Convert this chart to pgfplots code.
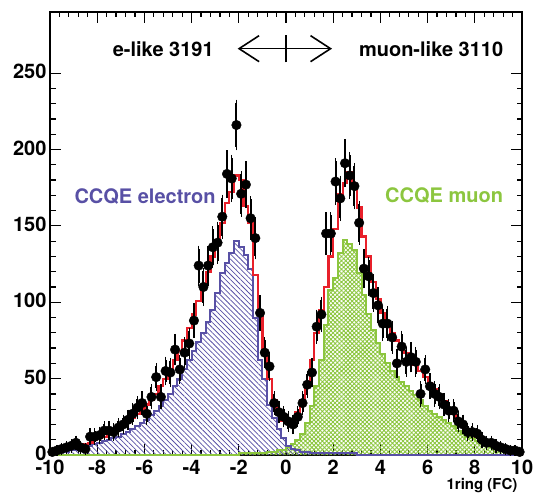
\documentclass[border=0pt]{standalone}
\usepackage{fontspec}
\setmainfont{TeX Gyre Heros}
\usepackage{pgfplots}
\pgfplotsset{compat=1.18}
\usepackage{pgfplotstable}
\usetikzlibrary{patterns.meta,arrows.meta}

\definecolor{mcred}{RGB}{232,32,42}
\definecolor{ccqeblue}{RGB}{88,80,165}
\definecolor{ccqegreen}{RGB}{140,198,63}

% bin centre, data, stat. error, total MC, CCQE e, CCQE mu
\pgfplotstableread{
x dat err tot ele mu
-9.9 2 1.4 2 1 0
-9.7 3 1.7 3 1 0
-9.5 4 2.0 3 2 0
-9.3 5 2.2 4 2 0
-9.1 6 2.4 5 3 0
-8.9 8 2.8 5 3 0
-8.7 5 2.2 6 4 0
-8.5 4 2.0 7 5 0
-8.3 12 3.5 8 6 0
-8.1 12 3.5 10 7 0
-7.9 13 3.6 11 8 0
-7.7 16 4.0 12 9 0
-7.5 16 4.0 14 10 0
-7.3 15 3.9 15 11 0
-7.1 18 4.2 17 12 0
-6.9 20 4.5 19 14 0
-6.7 23 4.8 21 15 0
-6.5 27 5.2 24 17 0
-6.3 31 5.6 27 19 0
-6.1 34 5.8 30 21 0
-5.9 27 5.2 33 23 0
-5.7 38 6.2 36 26 0
-5.5 51 7.1 40 29 0
-5.3 38 6.2 45 32 0
-5.1 55 7.4 50 36 0
-4.9 54 7.3 55 40 0
-4.7 69 8.3 62 45 0
-4.5 56 7.5 68 50 0
-4.3 67 8.2 75 56 0
-4.1 73 8.5 83 62 0
-3.9 88 9.4 92 68 0
-3.7 124 11.1 101 74 0
-3.5 110 10.5 110 80 0
-3.3 124 11.1 120 87 0
-3.1 136 11.7 130 95 0
-2.9 139 11.8 140 106 0
-2.7 156 12.5 152 119 0
-2.5 184 13.6 165 126 0
-2.3 181 13.5 172 132 0
-2.1 216 14.7 183 140 0
-1.9 171 13.1 180 136 1
-1.7 177 13.3 163 131 1
-1.5 155 12.4 152 122 1
-1.3 142 11.9 118 90 1
-1.1 93 9.6 92 62 1
-0.9 67 8.2 68 50 1
-0.7 58 7.6 50 33 2
-0.5 34 5.8 36 24 2
-0.3 28 5.3 27 17 3
-0.1 25 5.0 22 11 3
0.1 22 4.7 21 6 5
0.3 20 4.5 23 4 7
0.5 25 5.0 28 3 10
0.7 34 5.8 36 2 14
0.9 46 6.8 48 2 21
1.1 54 7.3 62 1 32
1.3 84 9.2 80 1 45
1.5 92 9.6 95 1 62
1.7 145 12.0 110 1 85
1.9 145 12.0 130 1 108
2.1 179 13.4 148 1 116
2.3 168 13.0 171 1 132
2.5 191 13.8 178 1 141
2.7 183 13.5 185 1 138
2.9 176 13.3 176 1 134
3.1 152 12.3 162 0 119
3.3 122 11.0 143 0 105
3.5 117 10.8 130 0 92
3.7 106 10.3 113 0 82
3.9 98 9.9 102 0 73
4.1 86 9.3 93 0 66
4.3 86 9.3 86 0 60
4.5 77 8.8 80 0 55
4.7 60 7.7 75 0 51
4.9 71 8.4 71 0 48
5.1 61 7.8 67 0 45
5.3 64 8.0 63 0 42
5.5 61 7.8 59 0 39
5.7 40 6.3 55 0 36
5.9 56 7.5 51 0 32
6.1 45 6.7 47 0 29
6.3 40 6.3 43 0 27
6.5 38 6.2 39 0 25
6.7 33 5.7 35 0 23
6.9 29 5.4 31 0 21
7.1 29 5.4 27 0 19
7.3 22 4.7 23 0 16
7.5 20 4.5 20 0 14
7.7 15 3.9 17 0 12
7.9 15 3.9 14 0 11
8.1 14 3.7 12 0 9
8.3 10 3.2 10 0 7
8.5 8 2.8 8 0 6
8.7 8 2.8 6 0 5
8.9 6 2.4 5 0 4
9.1 5 2.2 4 0 3
9.3 4 2.0 3 0 3
9.5 3 1.7 3 0 2
9.7 3 1.7 2 0 2
9.9 2 1.4 2 0 1
10.1 nan 0 2 0 1
}\fcdata

\begin{document}
\begin{tikzpicture}
\begin{axis}[
  scale only axis, width=472pt, height=443pt,
  xmin=-10, xmax=10, ymin=0, ymax=290,
  xtick={-10,-8,...,10}, ytick={0,50,...,250},
  minor x tick num=4, minor y tick num=4,
  tick align=inside, tick pos=both,
  xticklabel pos=lower, yticklabel pos=left,
  major tick length=11pt, minor tick length=5.5pt,
  every tick/.style={black, line width=1.2pt},
  axis line style={line width=1.6pt},
  tick label style={font=\bfseries\fontsize{20}{20}\selectfont},
  xticklabel style={yshift=-1.5pt},
  yticklabel style={yshift=1.5pt},
  /pgf/number format/assume math mode=true,
  xlabel={1ring (FC)},
  xlabel style={at={(rel axis cs:1,0)}, anchor=north east, yshift=-20pt, xshift=-1pt,
    font=\bfseries\fontsize{15}{15}\selectfont},
]
% fills
\addplot[const plot mark left, draw=none,
  pattern={Hatch[angle=45,distance=3pt,line width=0.9pt]}, pattern color=ccqegreen]
  table[x expr=\thisrow{x}-0.1, y=mu] {\fcdata} \closedcycle;
\addplot[const plot mark left, draw=none,
  pattern={Lines[angle=-45,distance=3.6pt,line width=0.75pt]}, pattern color=ccqeblue]
  table[x expr=\thisrow{x}-0.1, y=ele] {\fcdata} \closedcycle;
% outlines
\addplot[const plot mark left, ccqegreen, line width=2pt]
  table[x expr=\thisrow{x}-0.1, y=mu] {\fcdata};
\addplot[const plot mark left, ccqeblue, line width=2pt]
  table[x expr=\thisrow{x}-0.1, y=ele] {\fcdata};
\addplot[const plot mark left, mcred, line width=2.2pt]
  table[x expr=\thisrow{x}-0.1, y=tot] {\fcdata};
% data
\addplot[only marks, mark=*, mark size=4.8pt, black,
  error bars/.cd, y dir=both, y explicit,
  error bar style={line width=2pt, black},
  error mark options={line width=1.3pt, mark size=3pt, black}]
  table[x=x, y=dat, y error=err] {\fcdata};

\node[font=\bfseries\fontsize{20}{24}\selectfont] at (axis cs:-5.2,266) {e-like 3191};
\node[font=\bfseries\fontsize{20}{24}\selectfont] at (axis cs:6.15,266) {muon-like 3110};
\draw[line width=1.6pt, {Straight Barb[length=20pt,width=26pt,line width=1.6pt]}-{Straight Barb[length=20pt,width=26pt,line width=1.6pt]}]
  (axis cs:-2.05,266) -- (axis cs:1.95,266);
\draw[line width=1.6pt] (axis cs:0,257) -- (axis cs:0,275);
\node[font=\bfseries\fontsize{20}{24}\selectfont, text=ccqeblue] at (axis cs:-5.97,169) {CCQE electron};
\node[font=\bfseries\fontsize{20}{24}\selectfont, text=ccqegreen] at (axis cs:6.7,170) {CCQE muon};
\end{axis}
\pgfresetboundingbox
\path ([shift={(-50pt,-37pt)}]current axis.south west) rectangle ([shift={(14pt,12pt)}]current axis.north east);
\end{tikzpicture}
\end{document}
